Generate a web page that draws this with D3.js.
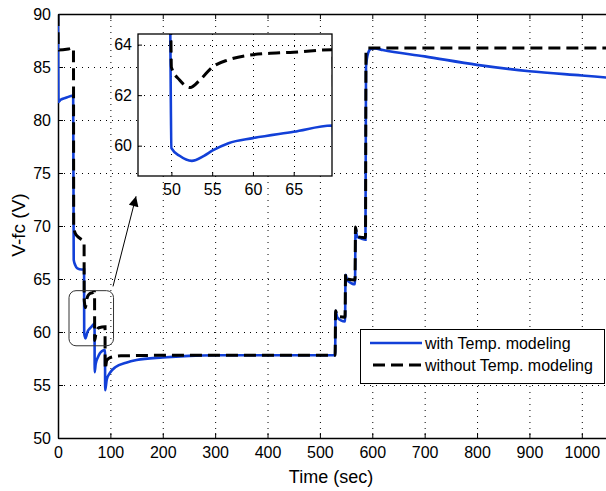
<!DOCTYPE html>
<html>
<head>
<meta charset="utf-8">
<script src="https://cdn.jsdelivr.net/npm/d3@7.9.0/dist/d3.min.js"></script>
<style>
  body { margin: 0; background: #fff; }
  svg { display: block; font-family: "Liberation Sans", Arial, sans-serif; }
  .tick text { font-size: 16px; fill: #000; }
</style>
</head>
<body>
<svg id="chart" width="606" height="491"></svg>
<script>
// time (sec) / V-fc (V)
const withT = [0, 1, 5, 15, 29, 30, 33, 37, 45, 49.8, 50, 51, 52.5, 54, 55, 57, 60, 65, 69.8, 70, 72, 76, 80, 84, 89.8,
  90, 93, 100, 110, 130, 150, 200, 250, 300, 529, 530, 533, 540, 548, 549, 552, 560, 567, 568, 571, 580, 587,
  588, 592, 597, 605, 620, 700, 800, 900, 1000, 1050];
const withV = [90, 81.7, 81.9, 82.1, 82.3, 66.8, 66.3, 66.0, 65.9, 65.9, 59.9, 59.6, 59.4, 59.6, 59.8, 60.1, 60.3, 60.55, 60.8, 56.2, 57.0, 57.6, 58.0, 58.2, 58.3,
  54.5, 55.5, 56.2, 56.7, 57.1, 57.35, 57.6, 57.75, 57.8, 57.8, 62.0, 61.4, 61.1, 61.0, 65.4, 64.9, 64.6, 64.5, 69.8, 69.0, 68.8, 68.7,
  85.0, 86.3, 86.7, 86.75, 86.6, 86.0, 85.2, 84.6, 84.2, 84.0];

const withoutT = [0, 0.5, 20, 29.5, 30, 33, 40, 49.8, 50, 51, 52.3, 53.5, 55, 57, 60, 65, 69.8, 70, 73, 78, 89.8,
  90, 93, 100, 120, 200, 529, 530, 533, 548, 549, 552, 567, 568, 571, 587, 588, 592, 600, 1050];
const withoutV = [90, 86.6, 86.7, 86.8, 70.0, 69.3, 68.9, 68.5, 63.1, 62.6, 62.3, 62.6, 63.1, 63.4, 63.6, 63.7, 63.8, 59.2, 60.0, 60.4, 60.5,
  56.5, 57.3, 57.6, 57.75, 57.8, 57.8, 62.0, 61.5, 61.4, 65.5, 65.0, 64.9, 69.9, 69.0, 68.9, 86.5, 86.8, 86.8, 86.8];

const xTicks = [0, 100, 200, 300, 400, 500, 600, 700, 800, 900, 1000];
const yTicks = [50, 55, 60, 65, 70, 75, 80, 85, 90];
const insetXTicks = [50, 55, 60, 65];
const insetYTicks = [60, 62, 64];
const seriesNames = ['with Temp. modeling', 'without Temp. modeling'];

const blue = '#1240d8';

let svg = d3.select('#chart');
let withData = withT.map((t, i) => ({ t: t, v: withV[i] }));
let withoutData = withoutT.map((t, i) => ({ t: t, v: withoutV[i] }));

let x = d3.scaleLinear().domain([0, 1050]).range([58, 608]);
let y = d3.scaleLinear().domain([50, 90]).range([438, 14]);
let fmt = d3.format('d');

svg.append('defs').append('clipPath').attr('id', 'mainClip')
  .append('rect').attr('x', 58).attr('y', 14).attr('width', 550).attr('height', 424);

// grid
let grid = svg.append('g').attr('stroke', '#000').attr('stroke-dasharray', '1,5').attr('stroke-width', 1);
xTicks.slice(1).forEach(t => {
  grid.append('line').attr('x1', x(t) + 0.5).attr('x2', x(t) + 0.5).attr('y1', 14).attr('y2', 438);
});
yTicks.slice(1, -1).forEach(v => {
  grid.append('line').attr('x1', 58).attr('x2', 608).attr('y1', Math.round(y(v)) + 0.5).attr('y2', Math.round(y(v)) + 0.5);
});

// axes
svg.append('g').attr('transform', 'translate(0,438)')
  .call(d3.axisBottom(x).tickValues(xTicks).tickFormat(fmt).tickSizeInner(-5).tickSizeOuter(0).tickPadding(9))
  .call(g => g.select('.domain').attr('stroke-width', 1.5));
svg.append('g').attr('transform', 'translate(0,14)')
  .call(d3.axisTop(x).tickValues(xTicks).tickSizeInner(-5).tickSizeOuter(0).tickFormat(''))
  .call(g => g.select('.domain').attr('stroke-width', 1.5));
svg.append('g').attr('transform', 'translate(58,0)')
  .call(d3.axisLeft(y).tickValues(yTicks).tickFormat(fmt).tickSizeInner(-5).tickSizeOuter(0).tickPadding(7))
  .call(g => g.select('.domain').attr('stroke-width', 1.5));

// series
let line = d3.line().x(d => x(d.t)).y(d => y(d.v)).curve(d3.curveMonotoneX);
let plot = svg.append('g').attr('clip-path', 'url(#mainClip)');
plot.append('path').datum(withData).attr('d', line)
  .attr('fill', 'none').attr('stroke', blue).attr('stroke-width', 2.6);
plot.append('path').datum(withoutData).attr('d', line)
  .attr('fill', 'none').attr('stroke', '#000').attr('stroke-width', 3).attr('stroke-dasharray', '12,6');

// zoom box + arrow
svg.append('rect')
  .attr('x', x(21)).attr('y', y(63.9))
  .attr('width', x(106) - x(21)).attr('height', y(58.7) - y(63.9))
  .attr('rx', 7).attr('fill', 'none').attr('stroke', '#333').attr('stroke-width', 1);

svg.select('defs').append('marker').attr('id', 'arrow')
  .attr('viewBox', '0 0 10 10').attr('refX', 10).attr('refY', 5)
  .attr('markerWidth', 12).attr('markerHeight', 10).attr('markerUnits', 'userSpaceOnUse')
  .attr('orient', 'auto')
  .append('path').attr('d', 'M0,0L10,5L0,10z').attr('fill', '#000');
svg.append('line')
  .attr('x1', x(105)).attr('y1', y(64.3)).attr('x2', x(149)).attr('y2', y(72.8))
  .attr('stroke', '#000').attr('stroke-width', 1).attr('marker-end', 'url(#arrow)');

// inset
let ix = d3.scaleLinear().domain([45.9, 69.7]).range([138, 332]);
let iy = d3.scaleLinear().domain([58.8, 64.42]).range([176, 34]);

svg.select('defs').append('clipPath').attr('id', 'insetClip')
  .append('rect').attr('x', 138).attr('y', 34).attr('width', 194).attr('height', 142);

let inset = svg.append('g');
inset.append('rect').attr('x', 138).attr('y', 34).attr('width', 194).attr('height', 142).attr('fill', '#fff');

let igrid = inset.append('g').attr('stroke', '#000').attr('stroke-dasharray', '1,5').attr('stroke-width', 1);
insetXTicks.forEach(t => {
  igrid.append('line').attr('x1', Math.round(ix(t)) + 0.5).attr('x2', Math.round(ix(t)) + 0.5).attr('y1', 34).attr('y2', 176);
});
insetYTicks.forEach(v => {
  igrid.append('line').attr('x1', 138).attr('x2', 332).attr('y1', Math.round(iy(v)) + 0.5).attr('y2', Math.round(iy(v)) + 0.5);
});

inset.append('g').attr('transform', 'translate(0,176)')
  .call(d3.axisBottom(ix).tickValues(insetXTicks).tickFormat(fmt).tickSizeInner(-4).tickSizeOuter(0).tickPadding(8))
  .call(g => g.select('.domain').remove());
inset.append('g').attr('transform', 'translate(138,0)')
  .call(d3.axisLeft(iy).tickValues(insetYTicks).tickFormat(fmt).tickSizeInner(-4).tickSizeOuter(0).tickPadding(6))
  .call(g => g.select('.domain').remove());

let iline = d3.line().x(d => ix(d.t)).y(d => iy(d.v)).curve(d3.curveMonotoneX);
let iplot = inset.append('g').attr('clip-path', 'url(#insetClip)');
iplot.append('path').datum(withData).attr('d', iline)
  .attr('fill', 'none').attr('stroke', blue).attr('stroke-width', 2.6);
iplot.append('path').datum(withoutData).attr('d', iline)
  .attr('fill', 'none').attr('stroke', '#000').attr('stroke-width', 3).attr('stroke-dasharray', '12,6');

inset.append('rect').attr('x', 138).attr('y', 34).attr('width', 194).attr('height', 142)
  .attr('fill', 'none').attr('stroke', '#000').attr('stroke-width', 1.3);

// legend
let legend = svg.append('g');
legend.append('rect').attr('x', 360.5).attr('y', 329.5).attr('width', 244).attr('height', 54)
  .attr('fill', '#fff').attr('stroke', '#000').attr('stroke-width', 1);
legend.append('line').attr('x1', 370).attr('x2', 422).attr('y1', 343).attr('y2', 343)
  .attr('stroke', blue).attr('stroke-width', 2.6);
legend.append('line').attr('x1', 373).attr('x2', 422).attr('y1', 365).attr('y2', 365)
  .attr('stroke', '#000').attr('stroke-width', 3).attr('stroke-dasharray', '12,6');
seriesNames.forEach((name, i) => {
  legend.append('text').attr('x', 425).attr('y', 349 + i * 22)
    .attr('font-size', 16).text(name);
});

// axis labels
svg.append('text').attr('x', 331).attr('y', 483).attr('text-anchor', 'middle')
  .attr('font-size', 18).text('Time (sec)');
svg.append('text').attr('transform', 'translate(25,225) rotate(-90)').attr('text-anchor', 'middle')
  .attr('font-size', 19).text('V-fc (V)');
</script>
</body>
</html>
